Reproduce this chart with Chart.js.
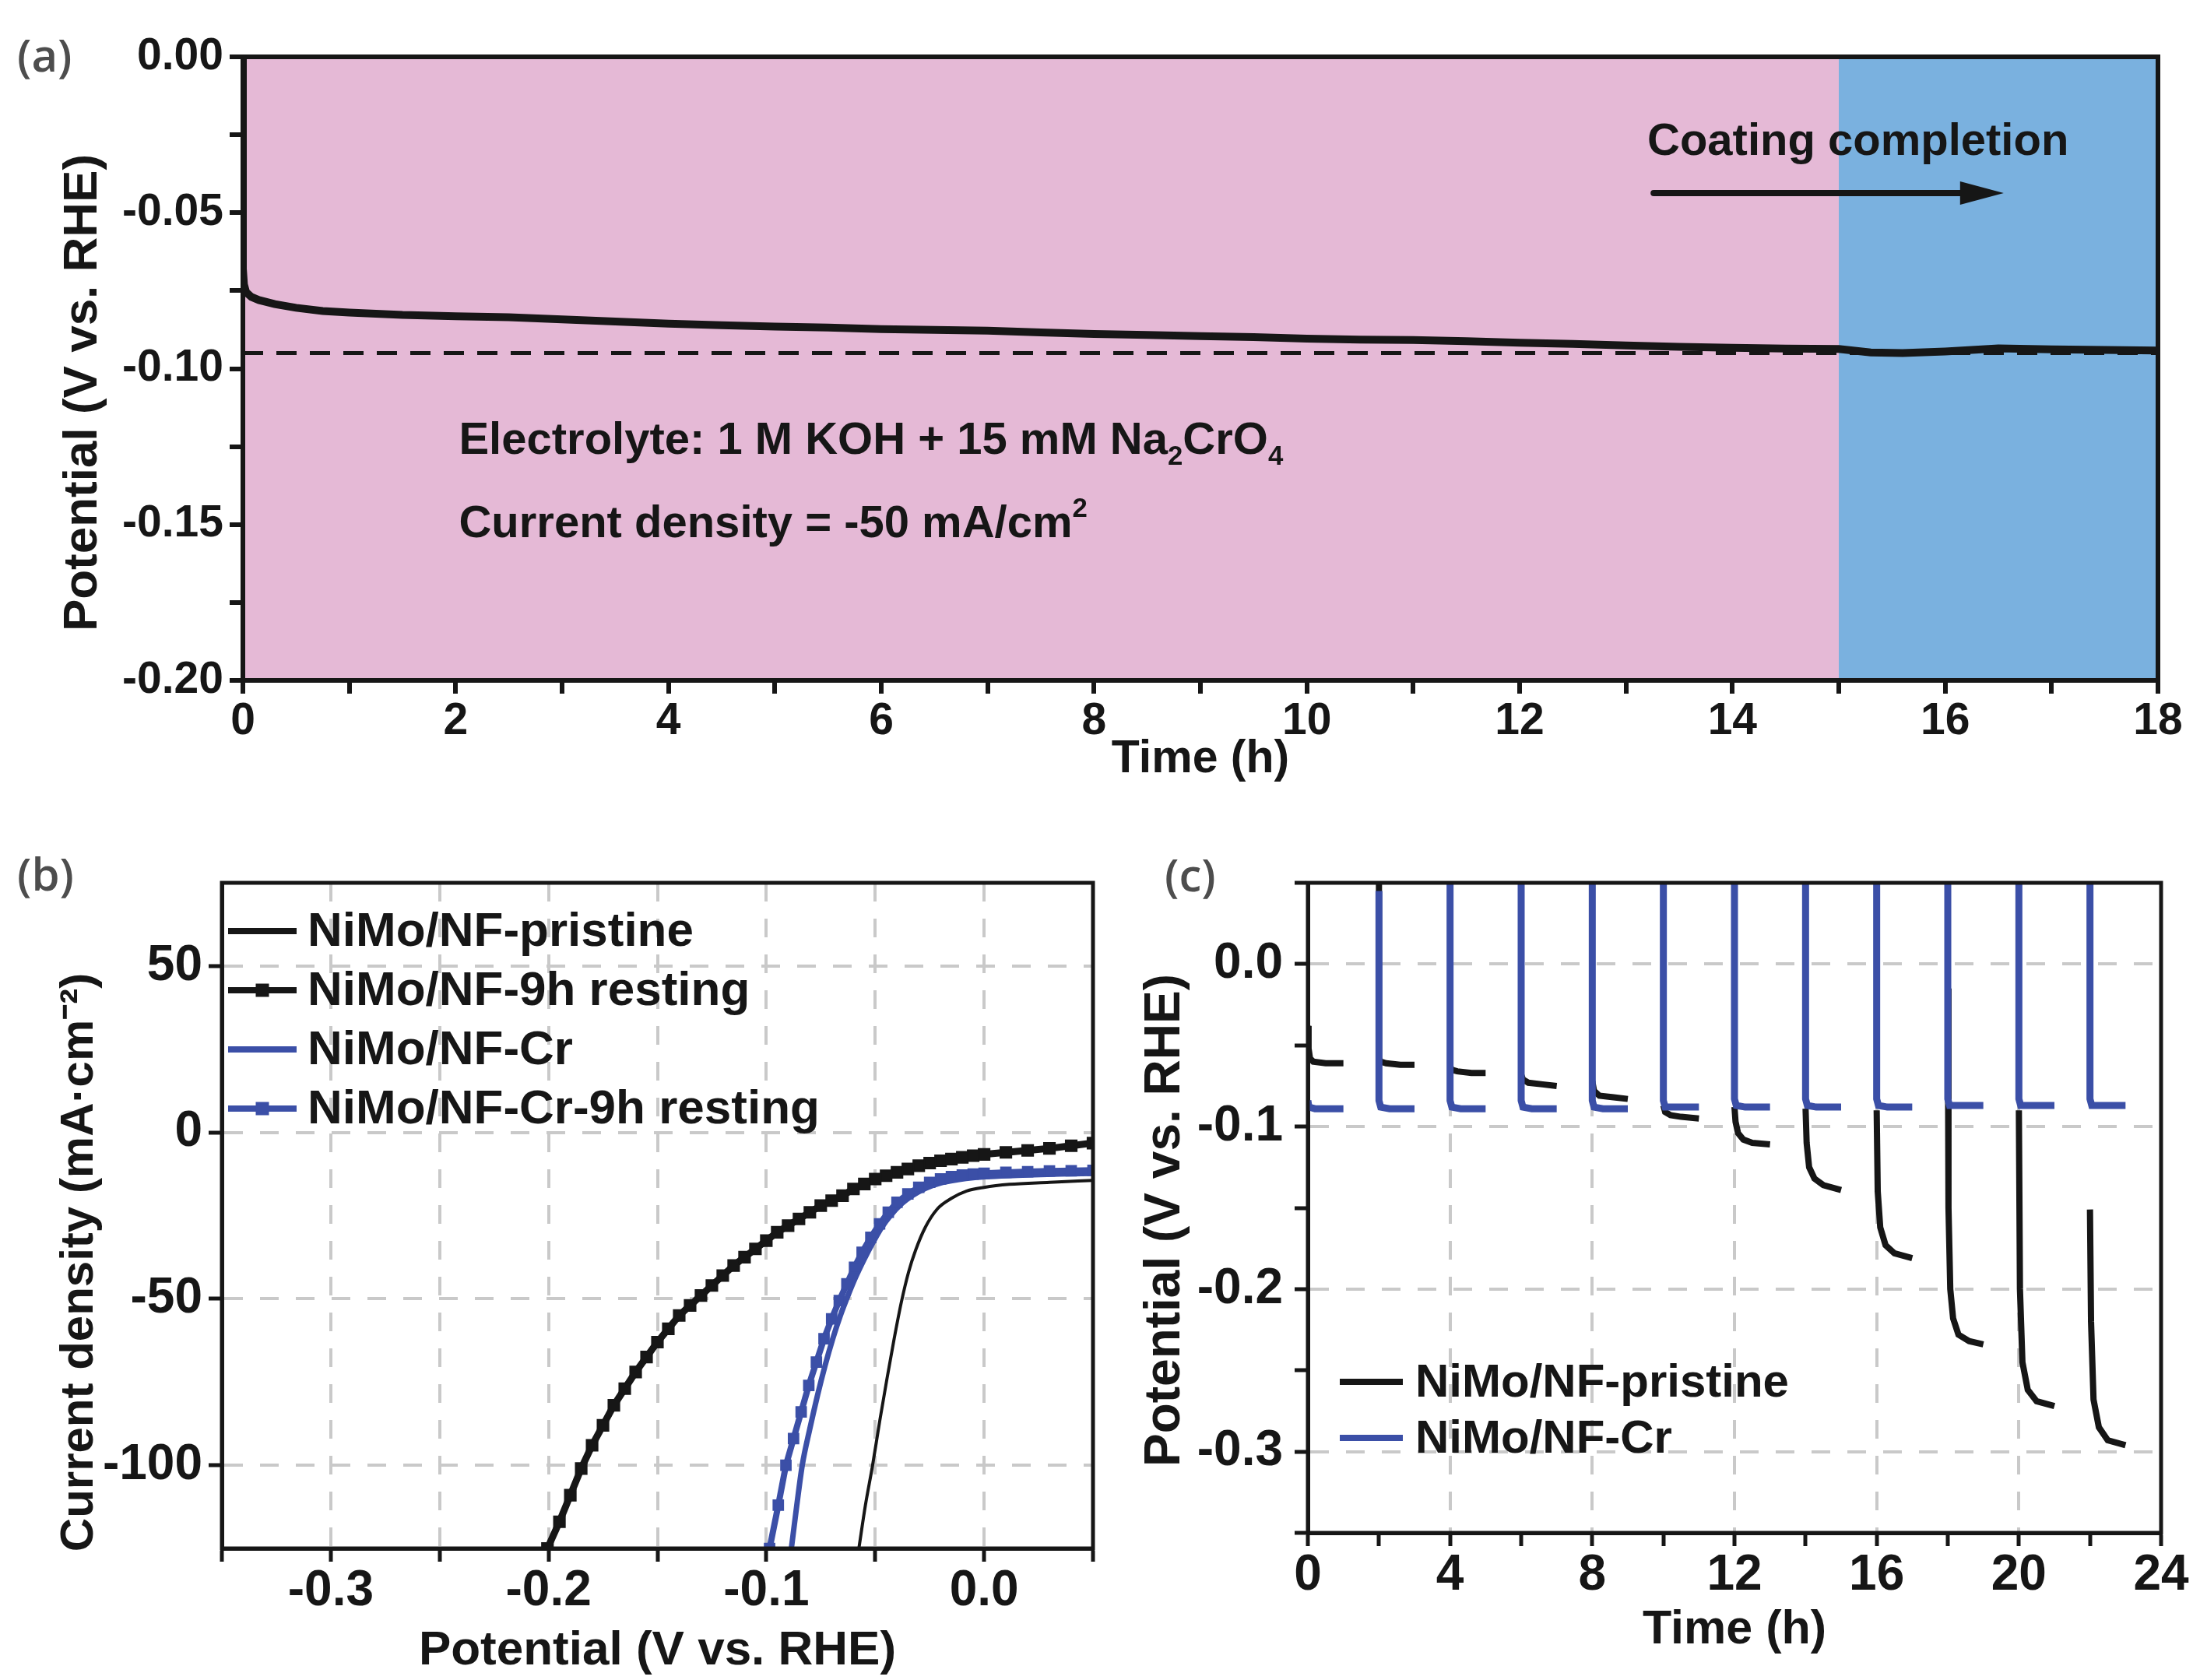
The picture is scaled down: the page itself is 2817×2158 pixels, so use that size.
<!DOCTYPE html>
<html lang="en">
<head>
<meta charset="UTF-8" />
<title>NiMo/NF Cr coating</title>
<script src="https://cdn.jsdelivr.net/npm/chart.js@4.4.1/dist/chart.umd.min.js"></script>
<style>
  body { margin: 0; width: 2817px; height: 2158px; background: #fff; position: relative; overflow: hidden; }
  .panel { position: absolute; }
  .tag { position: absolute; font: 600 58px "Open Sans", sans-serif; line-height: 1; color: #4d4d4d; }
</style>
</head>
<body>
<div class="tag" style="left:22px; top:41px">(a)</div>
<div class="tag" style="left:22px; top:1093px">(b)</div>
<div class="tag" style="left:1496px; top:1094px">(c)</div>

<div class="panel" style="left:0; top:0; width:2817px; height:1040px"><canvas id="chartA"></canvas></div>
<div class="panel" style="left:0; top:1080px; width:1450px; height:1078px"><canvas id="chartB"></canvas></div>
<div class="panel" style="left:1450px; top:1080px; width:1367px; height:1078px"><canvas id="chartC"></canvas></div>

<script>
// ---- (a) chronopotentiometry during Cr coating
const timeA = [0, 0, 0.01, 0.03, 0.08, 0.15, 0.3, 0.5, 0.75, 1, 1.5, 2, 2.5, 3, 3.5, 4, 4.5, 5, 5.5, 6, 6.5, 7, 7.5, 8, 8.5, 9, 9.5, 10, 10.5, 11, 11.5, 12, 12.5, 13, 13.5, 14, 14.5, 15, 15.3, 15.6, 16, 16.5, 17, 17.5, 18];
const potA = [0, -0.068, -0.073, -0.0755, -0.077, -0.078, -0.0793, -0.0805, -0.0815, -0.082,
  -0.0828, -0.0832, -0.0835, -0.0842, -0.0849, -0.0856, -0.0861, -0.0865, -0.0868, -0.0873,
  -0.0876, -0.0878, -0.0884, -0.0889, -0.0892, -0.0896, -0.0899, -0.0904, -0.0907, -0.0908,
  -0.0912, -0.0917, -0.0921, -0.0926, -0.093, -0.0933, -0.0936, -0.0937,
  -0.0948, -0.095, -0.0945, -0.0935, -0.0938, -0.094, -0.0942];
const refLevelA = -0.095;
const phaseEdgesA = [0, 15, 18];

// ---- (b) polarization curves
const pristineV = [-0.0575, -0.0545, -0.0512, -0.048, -0.0446, -0.0413, -0.038, -0.0347, -0.0314, -0.027, -0.0215, -0.015, -0.008, 0.0, 0.0116, 0.03, 0.05];
const pristineJ = [-125, -112, -100, -87, -74, -62, -51, -42, -35.3, -28.5, -23, -19.8, -17.6, -16.5, -15.6, -15, -14.4];
const resting9hV = [-0.2005, -0.195, -0.19, -0.185, -0.18, -0.175, -0.17, -0.165, -0.16, -0.155, -0.15, -0.145, -0.14, -0.135, -0.13, -0.125, -0.12, -0.115, -0.11, -0.105, -0.1, -0.095, -0.09, -0.085, -0.08, -0.075, -0.07, -0.065, -0.06, -0.055, -0.05, -0.045, -0.04, -0.035, -0.03, -0.025, -0.02, -0.015, -0.01, -0.005, 0, 0.01, 0.02, 0.03, 0.04, 0.05];
const resting9hJ = [-125, -117, -109, -101, -94, -88, -82, -77, -72, -67.5, -63, -59, -55, -52, -49, -46, -43, -40, -37.5, -35, -32.5, -30, -28, -26, -24, -22, -20.5, -19, -17, -15.5, -14, -13, -12, -11, -10, -9.2, -8.5, -8, -7.5, -7, -6.6, -6, -5.4, -4.8, -4, -3.2];
const crV = [-0.0885, -0.086, -0.0835, -0.08, -0.0765, -0.073, -0.0695, -0.066, -0.0625, -0.059, -0.055, -0.051, -0.047, -0.043, -0.038, -0.033, -0.027, -0.02, -0.012, -0.005, 0.005, 0.02, 0.035, 0.05];
const crJ = [-125, -112, -100, -89, -79, -70, -62, -55, -49, -43.5, -38, -33, -28.5, -25, -21.5, -19, -16.8, -15.2, -14.2, -13.6, -13.2, -12.8, -12.5, -12.3];
const cr9hV = [-0.0985, -0.0945, -0.091, -0.0875, -0.084, -0.0805, -0.077, -0.0735, -0.07, -0.0665, -0.063, -0.0595, -0.056, -0.052, -0.048, -0.044, -0.04, -0.035, -0.03, -0.025, -0.02, -0.015, -0.01, -0.005, 0, 0.01, 0.02, 0.03, 0.04, 0.05];
const cr9hJ = [-125, -112, -100, -92, -84, -76, -69, -62, -56, -50.5, -45.5, -40.5, -36, -31.5, -27.5, -24, -21, -18.5, -16.5, -15, -14, -13.3, -12.8, -12.5, -12.3, -12, -11.8, -11.6, -11.5, -11.4];

// ---- (c) intermittent operation (null = resting, no data)
const pristineTimeC = [0, 0.02, 0.06, 0.15, 0.5, 1, 1.5,
  2, 2, 2.05, 2.2, 2.6, 3, 3.5,
  4, 4.05, 4.2, 4.6, 5, 5.5,
  6, 6.05, 6.2, 6.6, 7, 7.5,
  8, 8.05, 8.2, 8.6, 9, 9.5,
  10, 10.05, 10.2, 10.5, 11, 11.5,
  12, 12.03, 12.1, 12.25, 12.5, 13, 13.5,
  14, 14.03, 14.1, 14.25, 14.5, 15, 15.5,
  16, 16.03, 16.1, 16.25, 16.5, 17, 17.5,
  18, 18.02, 18.07, 18.15, 18.3, 18.6, 19, 19.5,
  20, 20.03, 20.1, 20.25, 20.5, 21, 21.5,
  22, 22.03, 22.1, 22.25, 22.5, 23];
const pristinePotC = [-0.038, -0.052, -0.058, -0.060, -0.061, -0.061, null,
  0.06, -0.058, -0.060, -0.061, -0.062, -0.062, null,
  -0.063, -0.065, -0.066, -0.067, -0.067, null,
  -0.068, -0.071, -0.073, -0.074, -0.075, null,
  -0.072, -0.078, -0.081, -0.082, -0.083, null,
  -0.087, -0.091, -0.093, -0.094, -0.095, null,
  -0.088, -0.097, -0.104, -0.108, -0.110, -0.111, null,
  -0.089, -0.110, -0.125, -0.132, -0.136, -0.139, null,
  -0.090, -0.140, -0.162, -0.173, -0.178, -0.181, null,
  -0.015, -0.150, -0.200, -0.218, -0.228, -0.232, -0.234, null,
  -0.090, -0.200, -0.245, -0.262, -0.269, -0.272, null,
  -0.151, -0.220, -0.268, -0.285, -0.293, -0.296];
const crTimeC = [0, 0.03, 0.2, 1, 1.5,
  2, 2, 2.05, 2.3, 3, 3.5,
  4, 4, 4.05, 4.3, 5, 5.5,
  6, 6, 6.05, 6.3, 7, 7.5,
  8, 8, 8.05, 8.3, 9, 9.5,
  10, 10, 10.05, 10.3, 11, 11.5,
  12, 12, 12.05, 12.3, 13, 13.5,
  14, 14, 14.05, 14.3, 15, 15.5,
  16, 16, 16.05, 16.3, 17, 17.5,
  18, 18, 18.05, 18.3, 19, 19.5,
  20, 20, 20.05, 20.3, 21, 21.5,
  22, 22, 22.05, 22.3, 23];
const crPotC = [-0.084, -0.088, -0.089, -0.089, null,
  0.045, -0.084, -0.088, -0.089, -0.089, null,
  0.06, -0.084, -0.088, -0.089, -0.089, null,
  0.06, -0.084, -0.088, -0.089, -0.089, null,
  0.06, -0.084, -0.088, -0.089, -0.089, null,
  0.06, -0.084, -0.088, -0.088, -0.088, null,
  0.06, -0.083, -0.087, -0.088, -0.088, null,
  0.06, -0.083, -0.087, -0.088, -0.088, null,
  0.06, -0.083, -0.087, -0.088, -0.088, null,
  0.06, -0.083, -0.087, -0.087, -0.087, null,
  0.06, -0.083, -0.087, -0.087, -0.087, null,
  0.06, -0.083, -0.087, -0.087, -0.087];

// ---- styling
const FONT = "'Liberation Sans', Arial, Helvetica, sans-serif";
const INK = '#161616';
const BLUE = '#3B4FA7';
const GRID = '#C9C9C9';
const NONE = 'rgba(0,0,0,0)';
const PINK_BG = '#E5B9D6';
const BLUE_BG = '#7AB1DF';

Chart.defaults.font.family = FONT;
Chart.defaults.font.weight = 'bold';
Chart.defaults.color = INK;

const zip = (xs, ys) => xs.map((x, i) => ({ x, y: ys[i] }));
const isMultiple = (v, step) => Math.abs(v / step - Math.round(v / step)) < 1e-6;

function makeAxis(o) {
  const inside = v => v > o.min + 1e-9 && v < o.max - 1e-9;
  return {
    type: 'linear',
    min: o.min,
    max: o.max,
    afterFit: s => {
      if (o.width) s.width = o.width;
      if (o.height) s.height = o.height;
    },
    border: { color: INK, width: o.lineW, dash: [24, 22] },
    grid: {
      drawOnChartArea: !!o.gridStep,
      color: c => (o.gridStep && c.tick && inside(c.tick.value) && isMultiple(c.tick.value, o.gridStep)) ? GRID : NONE,
      lineWidth: 4,
      tickLength: 17,
      tickWidth: o.lineW,
      tickColor: c => (!o.tickStep || (c.tick && isMultiple(c.tick.value, o.tickStep))) ? INK : NONE
    },
    ticks: {
      stepSize: o.step,
      autoSkip: false,
      includeBounds: false,
      maxRotation: 0,
      padding: o.tickPad,
      color: INK,
      font: { size: o.tickSize, weight: 'bold' },
      callback: v => isMultiple(v, o.major) ? o.fmt(v) : ''
    },
    title: {
      display: true,
      text: o.title,
      color: INK,
      font: { size: o.titleSize, weight: 'bold' },
      padding: o.titlePad
    }
  };
}

const framePlugin = {
  id: 'frame',
  afterDatasetsDraw(chart, args, opts) {
    const { ctx, chartArea: a } = chart;
    ctx.save();
    ctx.strokeStyle = INK;
    ctx.lineWidth = opts.width;
    ctx.strokeRect(a.left, a.top, a.right - a.left, a.bottom - a.top);
    ctx.restore();
  }
};

const insetLegend = {
  id: 'insetLegend',
  afterDraw(chart, args, opts) {
    const { ctx, chartArea: a } = chart;
    ctx.save();
    ctx.font = `bold ${opts.size}px ${FONT}`;
    ctx.textBaseline = 'middle';
    chart.data.datasets.forEach((ds, i) => {
      const y = a.top + opts.top + i * opts.row;
      const x0 = a.left + opts.left;
      ctx.strokeStyle = ds.borderColor;
      ctx.lineWidth = opts.lineWidth;
      ctx.beginPath();
      ctx.moveTo(x0, y);
      ctx.lineTo(x0 + opts.len, y);
      ctx.stroke();
      if (ds.pointRadius > 0) {
        const s = opts.marker;
        ctx.fillStyle = ds.borderColor;
        ctx.fillRect(x0 + opts.len / 2 - s / 2, y - s / 2, s, s);
      }
      ctx.fillStyle = INK;
      ctx.fillText(ds.label, x0 + opts.len + opts.gap, y + 2);
    });
    ctx.restore();
  }
};

// ---- chart (a)
const notesA = [
  { x: 2.03, y: -0.1273, size: 58, parts: [['Electrolyte: 1 M KOH + 15 mM Na'], ['2', 'sub'], ['CrO'], ['4', 'sub']] },
  { x: 2.03, y: -0.154, size: 58, parts: [['Current density = -50 mA/cm'], ['2', 'sup']] },
  { x: 13.2, y: -0.0315, size: 58, parts: [['Coating completion']] }
];
const arrowA = { from: 13.26, to: 16.55, y: -0.0437 };

function drawRich(ctx, x, y, parts, size) {
  let cx = x;
  parts.forEach(([text, kind]) => {
    const s = kind ? size * 0.6 : size;
    const dy = kind === 'sub' ? size * 0.24 : kind === 'sup' ? -size * 0.45 : 0;
    ctx.font = `bold ${s}px ${FONT}`;
    ctx.fillText(text, cx, y + dy);
    cx += ctx.measureText(text).width;
  });
}

const phasePlugin = {
  id: 'phases',
  beforeDraw(chart) {
    const { ctx, chartArea: a, scales: { x } } = chart;
    const colors = [PINK_BG, BLUE_BG];
    ctx.save();
    for (let i = 0; i < phaseEdgesA.length - 1; i++) {
      const x1 = x.getPixelForValue(phaseEdgesA[i]);
      const x2 = x.getPixelForValue(phaseEdgesA[i + 1]);
      ctx.fillStyle = colors[i];
      ctx.fillRect(x1, a.top, x2 - x1, a.bottom - a.top);
    }
    ctx.restore();
  },
  afterDatasetsDraw(chart) {
    const { ctx, scales: { x, y } } = chart;
    ctx.save();
    ctx.fillStyle = INK;
    ctx.textBaseline = 'alphabetic';
    notesA.forEach(n => drawRich(ctx, x.getPixelForValue(n.x), y.getPixelForValue(n.y), n.parts, n.size));
    const ay = y.getPixelForValue(arrowA.y);
    const ax1 = x.getPixelForValue(arrowA.from);
    const ax2 = x.getPixelForValue(arrowA.to);
    ctx.strokeStyle = INK;
    ctx.lineWidth = 8;
    ctx.lineCap = 'round';
    ctx.beginPath();
    ctx.moveTo(ax1, ay);
    ctx.lineTo(ax2 - 50, ay);
    ctx.stroke();
    ctx.beginPath();
    ctx.moveTo(ax2, ay);
    ctx.lineTo(ax2 - 56, ay - 15);
    ctx.lineTo(ax2 - 56, ay + 15);
    ctx.closePath();
    ctx.fill();
    ctx.restore();
  }
};

new Chart(document.getElementById('chartA'), {
  type: 'line',
  data: {
    datasets: [
      { data: zip(timeA, potA), borderColor: INK, borderWidth: 10, pointRadius: 0, tension: 0 },
      { data: [{ x: phaseEdgesA[0], y: refLevelA }, { x: phaseEdgesA[2], y: refLevelA }], borderColor: INK, borderWidth: 5, borderDash: [26, 17], pointRadius: 0 }
    ]
  },
  options: {
    responsive: true, maintainAspectRatio: false, animation: false, devicePixelRatio: 1,
    layout: { padding: { top: 73, right: 45, left: 0, bottom: 0 } },
    plugins: { legend: { display: false }, tooltip: { enabled: false }, frame: { width: 6 } },
    scales: {
      x: makeAxis({ min: 0, max: 18, step: 1, major: 2, fmt: v => String(v), height: 166, lineW: 6,
        tickSize: 57, tickPad: 2, title: 'Time (h)', titleSize: 59, titlePad: { bottom: 29 } }),
      y: makeAxis({ min: -0.2, max: 0, step: 0.025, major: 0.05, fmt: v => v.toFixed(2), width: 312, lineW: 6,
        tickSize: 57, tickPad: 8, title: 'Potential (V vs. RHE)\u2003', titleSize: 62, titlePad: { top: 70 } })
    }
  },
  plugins: [phasePlugin, framePlugin]
});

// ---- chart (b)
new Chart(document.getElementById('chartB'), {
  type: 'line',
  data: {
    datasets: [
      { label: 'NiMo/NF-pristine', data: zip(pristineV, pristineJ), borderColor: INK, borderWidth: 4, pointRadius: 0, cubicInterpolationMode: 'monotone', order: 3 },
      { label: 'NiMo/NF-9h resting', data: zip(resting9hV, resting9hJ), borderColor: INK, borderWidth: 9, pointStyle: 'rect', pointRadius: 10, pointBorderWidth: 2, pointBackgroundColor: INK, pointBorderColor: INK, order: 2 },
      { label: 'NiMo/NF-Cr', data: zip(crV, crJ), borderColor: BLUE, borderWidth: 7, pointRadius: 0, cubicInterpolationMode: 'monotone', order: 1 },
      { label: 'NiMo/NF-Cr-9h resting', data: zip(cr9hV, cr9hJ), borderColor: BLUE, borderWidth: 8, pointStyle: 'rect', pointRadius: 9, pointBorderWidth: 2, pointBackgroundColor: BLUE, pointBorderColor: BLUE, order: 0 }
    ]
  },
  options: {
    responsive: true, maintainAspectRatio: false, animation: false, devicePixelRatio: 1,
    layout: { padding: { top: 54, right: 46, left: 0, bottom: 0 } },
    plugins: {
      legend: { display: false }, tooltip: { enabled: false }, frame: { width: 5 },
      insetLegend: { left: 8, top: 62, row: 76, len: 88, gap: 14, lineWidth: 8, marker: 17, size: 62 }
    },
    scales: {
      x: makeAxis({ min: -0.35, max: 0.05, step: 0.05, major: 0.1, gridStep: 0.05, fmt: v => v.toFixed(1), height: 169, lineW: 5,
        tickSize: 64, tickPad: 0, title: 'Potential (V vs. RHE)', titleSize: 62, titlePad: { bottom: 0 } }),
      y: makeAxis({ min: -125, max: 75, step: 25, major: 50, gridStep: 50, tickStep: 50, fmt: v => String(v), width: 285, lineW: 5,
        tickSize: 64, tickPad: 8, title: 'Current density (mA\u00B7cm\u207B\u00B2)\u2003\u2003', titleSize: 60, titlePad: { top: 66 } })
    }
  },
  plugins: [framePlugin, insetLegend]
});

// ---- chart (c)
new Chart(document.getElementById('chartC'), {
  type: 'line',
  data: {
    datasets: [
      { label: 'NiMo/NF-pristine', data: zip(pristineTimeC, pristinePotC), borderColor: INK, borderWidth: 8, pointRadius: 0, tension: 0, order: 1 },
      { label: 'NiMo/NF-Cr', data: zip(crTimeC, crPotC), borderColor: BLUE, borderWidth: 9, pointRadius: 0, tension: 0, order: 0 }
    ]
  },
  options: {
    responsive: true, maintainAspectRatio: false, animation: false, devicePixelRatio: 1,
    layout: { padding: { top: 54, right: 41, left: 0, bottom: 0 } },
    plugins: {
      legend: { display: false }, tooltip: { enabled: false }, frame: { width: 5 },
      insetLegend: { left: 41, top: 641, row: 72, len: 81, gap: 16, lineWidth: 8, marker: 0, size: 60 }
    },
    scales: {
      x: makeAxis({ min: 0, max: 24, step: 2, major: 4, gridStep: 4, fmt: v => String(v), height: 189, lineW: 5,
        tickSize: 64, tickPad: 0, title: 'Time (h)', titleSize: 61, titlePad: { bottom: 27 } }),
      y: makeAxis({ min: -0.35, max: 0.05, step: 0.05, major: 0.1, gridStep: 0.1, fmt: v => v.toFixed(1), width: 230, lineW: 5,
        tickSize: 64, tickPad: 15, title: 'Potential (V vs. RHE)\u2002', titleSize: 64, titlePad: { top: 9 } })
    }
  },
  plugins: [framePlugin, insetLegend]
});
</script>
</body>
</html>
